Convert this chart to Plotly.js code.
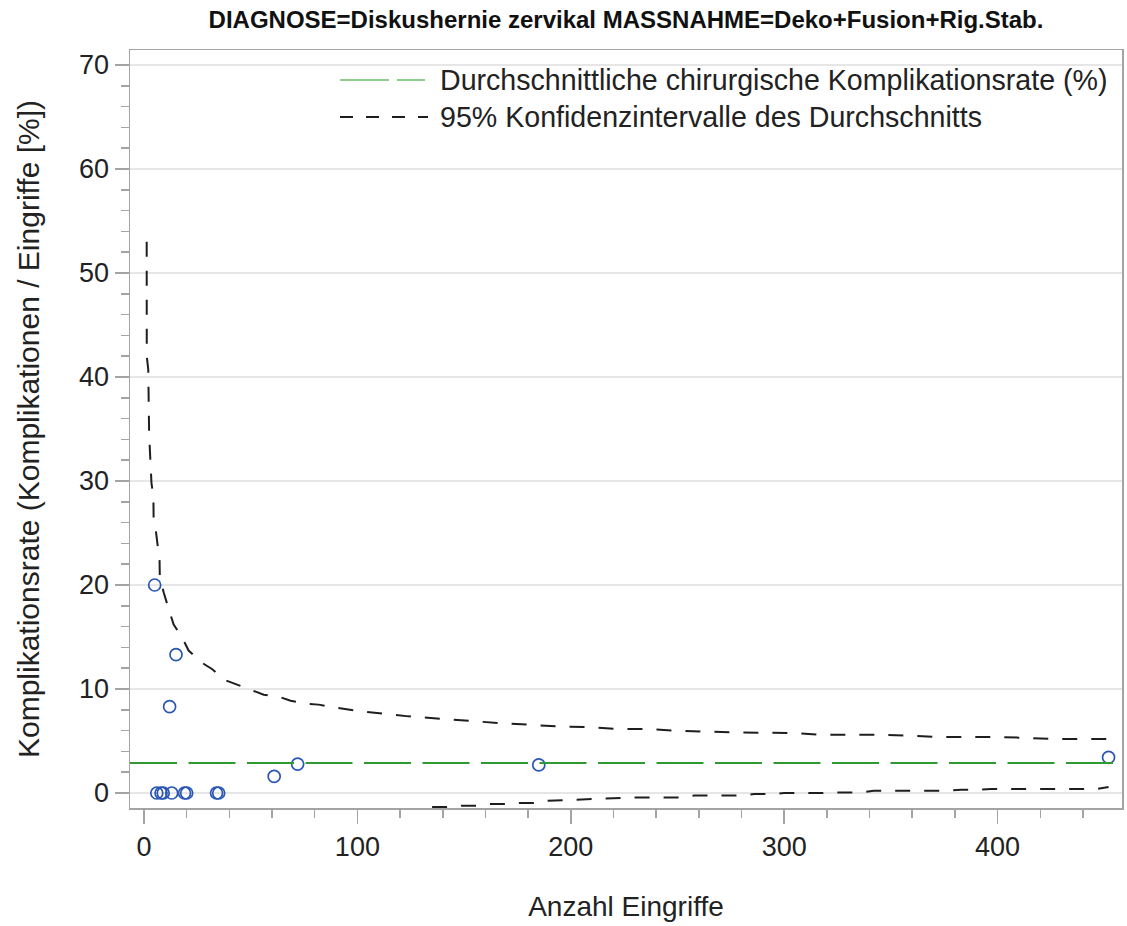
<!DOCTYPE html>
<html>
<head>
<meta charset="utf-8">
<script src="https://cdn.plot.ly/plotly-3.0.1.min.js"></script>
<style>
  html, body { margin: 0; padding: 0; background: #ffffff; }
  #chart { width: 1127px; height: 926px; }
</style>
</head>
<body>
<div id="chart"></div>
<script>
// ---- Data ----
const chartTitle = "DIAGNOSE=Diskushernie zervikal MASSNAHME=Deko+Fusion+Rig.Stab.";
const xAxisTitle = "Anzahl Eingriffe";
const yAxisTitle = "Komplikationsrate (Komplikationen / Eingriffe [%])";
const legendAvg = "Durchschnittliche chirurgische Komplikationsrate (%)";
const legendCI = "95% Konfidenzintervalle des Durchschnitts";

// Hospitals: number of interventions and complication rate (%)
const eingriffe = [5, 6, 8, 9, 12, 13, 15, 19, 20, 34, 35, 61, 72, 185, 452];
const rate      = [20, 0, 0, 0, 8.3, 0, 13.3, 0, 0, 0, 0, 1.6, 2.78, 2.7, 3.42];

// Average complication rate (%)
const avgRate = 2.88;

// Upper 95% confidence limit
const upperX = [1.26, 1.3, 2.0, 2.1, 2.4, 2.8, 3.0, 3.5, 4.4, 4.5, 5.5, 6.6, 7.3, 7.4, 9.2, 11.7,
                13.9, 18.0, 20.9, 26.6, 32.0, 37.5, 43.7, 50, 56.1, 63.1, 68.7, 75.7, 81.8, 87.4,
                100, 124, 140, 153, 166, 180, 194, 208, 222, 236, 250, 276, 290, 305, 318, 345,
                360, 374, 392, 402, 415, 428, 450, 454];
const upperY = [53.0, 42.0, 40.7, 36.0, 34.6, 32.8, 31.4, 29.8, 28.5, 26.6, 25.3, 23.7, 22.3, 20.8, 19.3, 17.6,
                16.2, 14.9, 13.7, 12.6, 11.9, 10.9, 10.4, 9.9, 9.45, 9.26, 8.87, 8.6, 8.5, 8.3,
                7.9, 7.37, 7.1, 6.95, 6.73, 6.57, 6.4, 6.35, 6.15, 6.15, 5.99, 5.83, 5.77, 5.77, 5.6, 5.6,
                5.5, 5.38, 5.38, 5.38, 5.29, 5.19, 5.19, 5.19];

// Lower 95% confidence limit
const lowerX = [135, 142, 149, 156, 162, 169, 175, 184, 189, 210, 231, 250, 258, 280, 286, 296,
                300, 320, 327, 336, 342, 375, 383, 392, 397, 446, 452];
const lowerY = [-1.35, -1.35, -1.22, -1.22, -1.06, -1.06, -0.96, -0.96, -0.74, -0.58, -0.42, -0.42, -0.23, -0.23, -0.1, -0.1,
                0.0, 0.0, 0.06, 0.06, 0.22, 0.22, 0.32, 0.32, 0.38, 0.38, 0.58];

// Axis ticks
const xTicks = [0, 100, 200, 300, 400];
const yTicks = [0, 10, 20, 30, 40, 50, 60, 70];

// ---- Styling ----
const FONT = "Liberation Sans, Arial, Helvetica, sans-serif";
const TEXT = "#222222";
const FRAME = "#a4a4a4";
const GREEN = "#2f9a2f";
const BLUE = "#2a56b5";
const BLACK = "#1e1e1e";

// plot area in pixels: left 130, right 1122, top 50, bottom 808
const L = 130, R = 1122, T = 50, B = 808;
const px2paperX = p => (p - L) / (R - L);
const px2paperY = p => (B - p) / (B - T);

const traces = [
  {
    x: upperX, y: upperY, type: "scatter", mode: "lines",
    line: { color: BLACK, width: 2, dash: "15px,14px" },
    hoverinfo: "skip", showlegend: false
  },
  {
    x: lowerX, y: lowerY, type: "scatter", mode: "lines",
    line: { color: BLACK, width: 2, dash: "15px,14px" },
    hoverinfo: "skip", showlegend: false
  },
  {
    x: eingriffe, y: rate, type: "scatter", mode: "markers",
    marker: { symbol: "circle-open", size: 12, color: BLUE, line: { width: 1.7, color: BLUE } },
    showlegend: false
  }
];

const shapes = [
  // average line
  { type: "line", xref: "paper", yref: "y", x0: 0, x1: 1, y0: avgRate, y1: avgRate,
    line: { color: GREEN, width: 2, dash: "47px,11.5px" }, layer: "above" },
  // legend samples
  { type: "line", xref: "paper", yref: "paper",
    x0: px2paperX(340), x1: px2paperX(425), y0: px2paperY(80), y1: px2paperY(80),
    line: { color: "#6cbf6c", width: 1.5, dash: "49px,8px" } },
  { type: "line", xref: "paper", yref: "paper",
    x0: px2paperX(340), x1: px2paperX(428), y0: px2paperY(117), y1: px2paperY(117),
    line: { color: BLACK, width: 2, dash: "13px,13px" } }
];

const annotations = [
  { xref: "paper", yref: "paper", x: px2paperX(438), y: px2paperY(80), xanchor: "left", yanchor: "middle",
    text: legendAvg, showarrow: false, font: { family: FONT, size: 28.6, color: TEXT } },
  { xref: "paper", yref: "paper", x: px2paperX(438), y: px2paperY(117), xanchor: "left", yanchor: "middle",
    text: legendCI, showarrow: false, font: { family: FONT, size: 28.6, color: TEXT } }
];

const layout = {
  width: 1127, height: 926,
  paper_bgcolor: "#ffffff", plot_bgcolor: "#ffffff",
  margin: { l: L, r: 1127 - R, t: T, b: 926 - B, pad: 0 },
  showlegend: false,
  font: { family: FONT, color: TEXT, size: 27 },
  title: {
    text: "<b>" + chartTitle + "</b>",
    font: { family: FONT, size: 24, color: "#111111" },
    x: 0.5, xref: "paper", xanchor: "center",
    y: 1 - 20 / 926, yref: "container", yanchor: "middle"
  },
  xaxis: {
    range: [-6.56, 458.3],
    tickvals: xTicks,
    ticks: "outside", ticklen: 14, tickwidth: 1.5, tickcolor: FRAME,
    minor: { dtick: 20, tick0: 0, ticks: "outside", ticklen: 8, tickwidth: 1.5, tickcolor: FRAME, showgrid: false },
    showline: true, mirror: true, linecolor: FRAME, linewidth: 1.5,
    showgrid: false, zeroline: false,
    tickfont: { family: FONT, size: 27, color: TEXT },
    title: { text: xAxisTitle, font: { family: FONT, size: 28, color: TEXT }, standoff: 35 }
  },
  yaxis: {
    range: [-1.44, 71.44],
    tickvals: yTicks,
    ticks: "outside", ticklen: 14, tickwidth: 1.5, tickcolor: FRAME,
    minor: { dtick: 2, tick0: 0, ticks: "outside", ticklen: 8, tickwidth: 1.5, tickcolor: FRAME, showgrid: false },
    showline: true, mirror: true, linecolor: FRAME, linewidth: 1.5,
    showgrid: true, gridcolor: "#e6e6e6", gridwidth: 1.5, zeroline: false,
    tickfont: { family: FONT, size: 27, color: TEXT },
    title: { text: yAxisTitle, font: { family: FONT, size: 30, color: TEXT }, standoff: 30 }
  },
  shapes: shapes,
  annotations: annotations
};

Plotly.newPlot("chart", traces, layout, { staticPlot: true, displayModeBar: false });
</script>
</body>
</html>
